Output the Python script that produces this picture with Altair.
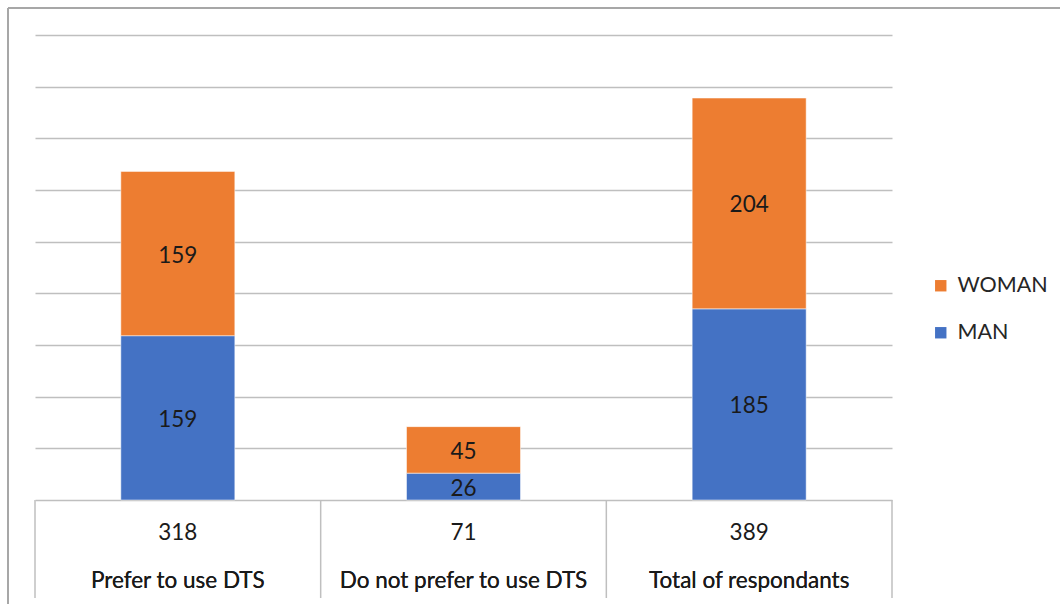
import altair as alt
import pandas as pd

categories = ["Prefer to use DTS", "Do not prefer to use DTS", "Total of respondants"]
man = [159, 26, 185]
woman = [159, 45, 204]
groups = ["MAN", "WOMAN"]
colors = ["#4472C4", "#ED7D31"]
y_ticks = list(range(0, 451, 50))

rows = []
for c, m, w in zip(categories, man, woman):
    rows.append({"cat": c, "gender": "MAN", "value": m})
    rows.append({"cat": c, "gender": "WOMAN", "value": w})
df = pd.DataFrame(rows)

W, H = 857, 465
FONT = "Lato"
FS = 22.5
GRID = "#BFBFBF"
INK = "#1a1a1a"

x_enc = alt.X("cat:N", sort=categories, axis=None,
              scale=alt.Scale(domain=categories, paddingInner=0, paddingOuter=0))
base = alt.Chart(df)

bars = base.mark_bar(size=114, stroke="white", strokeWidth=0.5).encode(
    x=x_enc,
    y=alt.Y("sum(value):Q", stack="zero",
            scale=alt.Scale(domain=[0, 450], nice=False),
            axis=alt.Axis(values=y_ticks, grid=True, labels=False, ticks=False,
                          domain=False, title=None, gridColor=GRID, gridWidth=1.5)),
    color=alt.Color("gender:N",
                    scale=alt.Scale(domain=groups, range=colors),
                    legend=alt.Legend(title=None, orient="none", legendX=895, legendY=240,
                                      values=["WOMAN", "MAN"], symbolType="square",
                                      symbolSize=130, symbolStrokeWidth=0,
                                      labelFont=FONT, labelFontSize=21.5, labelColor="#262626",
                                      rowPadding=24, padding=0, labelOffset=6)),
    order=alt.Order("gender:N", sort="ascending"),
)

seg_labels = base.transform_stack(
    stack="value", groupby=["cat"], as_=["y0", "y1"],
    sort=[alt.SortField("gender", order="ascending")]
).transform_calculate(mid="(datum.y0 + datum.y1) / 2").mark_text(
    font=FONT, fontSize=FS, color=INK, baseline="middle", dy=2
).encode(x=x_enc, y=alt.Y("mid:Q"), text=alt.Text("value:Q"))

# table beneath the bars: totals row and category row
totals = base.mark_text(font=FONT, fontSize=FS, color=INK, baseline="middle").encode(
    x=x_enc, y=alt.value(H + 33), text=alt.Text("sum(value):Q"))
names = base.mark_text(font=FONT, fontSize=FS, color=INK, baseline="middle").encode(
    x=x_enc, y=alt.value(H + 81), text=alt.Text("cat:N"))

sep_df = pd.DataFrame({"cat": categories})
seps_left = alt.Chart(sep_df).mark_rule(color=GRID, strokeWidth=1.5).encode(
    x=alt.X("cat:N", sort=categories, axis=None, bandPosition=0,
            scale=alt.Scale(domain=categories, paddingInner=0, paddingOuter=0)),
    y=alt.value(H), y2=alt.value(H + 98))
seps_right = alt.Chart(sep_df).transform_filter(
    alt.datum.cat == categories[-1]
).mark_rule(color=GRID, strokeWidth=1.5).encode(
    x=alt.X("cat:N", sort=categories, axis=None, bandPosition=1,
            scale=alt.Scale(domain=categories, paddingInner=0, paddingOuter=0)),
    y=alt.value(H), y2=alt.value(H + 98))

# outer frame (left and top edges)
frame_left = alt.Chart(sep_df).mark_rule(color="#A6A6A6", strokeWidth=1.5).encode(
    x=alt.value(-27), y=alt.value(-27), y2=alt.value(H + 104))
frame_top = alt.Chart(sep_df).mark_rule(color="#A6A6A6", strokeWidth=1.5).encode(
    x=alt.value(-27), x2=alt.value(W + 170), y=alt.value(-27))

chart = alt.layer(
    bars, seg_labels, totals, names, seps_left, seps_right, frame_left, frame_top
).properties(
    width=W, height=H,
    autosize=alt.AutoSizeParams(type="none"),
    padding={"left": 35, "top": 35, "right": 168, "bottom": 104},
    background="white",
).configure_view(stroke=None)

chart.save("out.html", embed_options={"renderer": "svg", "actions": False})
